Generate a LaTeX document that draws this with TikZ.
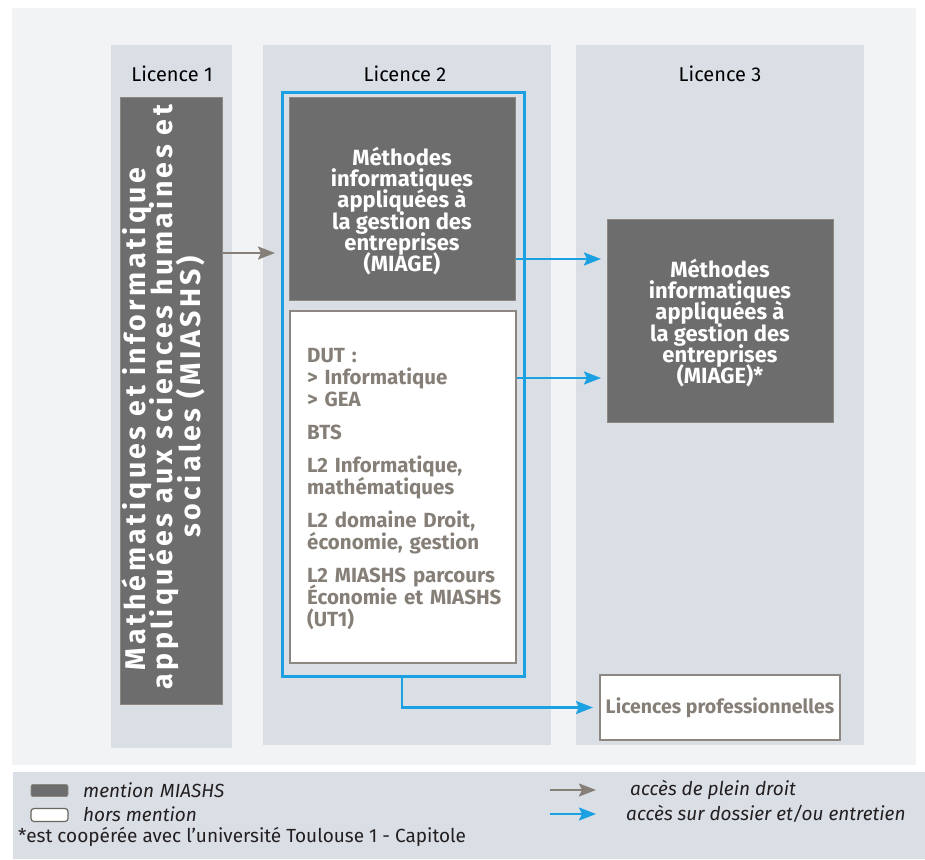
\documentclass[tikz,border=0pt]{standalone}
\usepackage{fontspec}
\setmainfont{Fira Sans}
\newfontfamily\spaced[LetterSpace=12]{Fira Sans}
\usetikzlibrary{arrows.meta}
\definecolor{bglight}{HTML}{F2F3F5}
\definecolor{colbg}{HTML}{DADEE5}
\definecolor{darkbox}{HTML}{6D6D6D}
\definecolor{boxedge}{HTML}{8C8781}
\definecolor{txtgray}{HTML}{857F78}
\definecolor{accblue}{HTML}{1BA0E1}
\definecolor{legink}{HTML}{231F20}
\tikzset{
  tightlines/.style={execute at begin node={\lineskiplimit=-30pt\lineskip=0pt\hyphenpenalty=10000}},
  column/.style={fill=colbg, draw=none, inner sep=0pt},
  darkstyle/.style={fill=darkbox, draw=boxedge, line width=1pt, inner sep=0pt},
  darktext/.style={text=white, font=\bfseries\fontsize{22}{21.3}\selectfont, align=center, inner sep=0pt, tightlines},
  whitestyle/.style={fill=white, draw=boxedge, line width=2pt, text=txtgray, inner sep=0pt},
  graytext/.style={text=txtgray, font=\bfseries\fontsize{20.5}{22}\selectfont, inner sep=0pt, tightlines},
  coltitle/.style={font=\fontsize{20}{22}\selectfont, text=black},
  grayarrow/.style={draw=txtgray, line width=2pt, -{Stealth[length=17pt,width=13pt,inset=3pt]}},
  bluearrow/.style={draw=accblue, line width=2.2pt, -{Stealth[length=17pt,width=13pt,inset=3pt]}},
  legtext/.style={font=\itshape\fontsize{19}{21}\selectfont, text=legink, anchor=west, inner sep=0pt},
}
\begin{document}
\begin{tikzpicture}[x=1pt,y=-1pt]
\useasboundingbox (0,0) rectangle (925,859);
\fill[white] (0,0) rectangle (925,859);
\fill[bglight] (12,8) rectangle (916,765);
\fill[colbg] (13,772) rectangle (925,859);
% columns
\node[column, minimum width=121, minimum height=703, anchor=north west] (c1) at (111,45) {};
\node[column, minimum width=288, minimum height=700, anchor=north west] (c2) at (263,45) {};
\node[column, minimum width=288, minimum height=700, anchor=north west] (c3) at (576,45) {};
\node[coltitle] (t1) at (172,74) {Licence 1};
\node[coltitle] (t2) at (405,74) {Licence 2};
\node[coltitle] (t3) at (720,74) {Licence 3};
% L1 box
\node[darkstyle, minimum width=102, minimum height=607, anchor=north west] (l1) at (120,97) {};
\node[rotate=90, text=white, align=center, font=\spaced\bfseries\fontsize{28.5}{27.5}\selectfont, inner sep=0pt, tightlines] (l1t) at (163,397) {Mathématiques et informatique\hspace*{44pt}\\appliquées aux sciences humaines et\\sociales (MIASHS)};
% blue frame
\node[draw=accblue, line width=2.5pt, minimum width=242, minimum height=584, anchor=north west, inner sep=0pt] (frame) at (281,91) {};
% L2 MIAGE
\node[darkstyle, minimum width=226, minimum height=203, anchor=north west] (m2) at (289,97) {};
\node[darktext] (m2t) at (402,211) {Méthodes\\informatiques\\appliquées à\\la gestion des\\entreprises\\(MIAGE)};
% white box
\node[whitestyle, minimum width=226, minimum height=352, anchor=north west] (w2) at (289,310) {};
\node[graytext, anchor=west, text width=205, align=left] (w2t) at (307,489) {DUT :\\
> Informatique\\
> GEA\\[11pt]
BTS\\[11pt]
L2 Informatique,\\
mathématiques\\[11pt]
L2 domaine Droit,\\
économie, gestion\\[11pt]
L2 MIASHS parcours\\
Économie et MIASHS\\
(UT1)};
% L3 MIAGE
\node[darkstyle, minimum width=226, minimum height=203, anchor=north west] (m3) at (607,219) {};
\node[darktext] (m3t) at (720,323) {Méthodes\\informatiques\\appliquées à\\la gestion des\\entreprises\\(MIAGE)*};
% licences pro
\node[whitestyle, minimum width=240, minimum height=65, anchor=north west, font=\bfseries\fontsize{19.5}{21}\selectfont] (lp) at (599,674) {Licences professionnelles};
% arrows
\coordinate (ga) at (l1.east |- 0,253);
\draw[grayarrow, shorten >=6pt] (ga) -- (ga -| frame.west);
\coordinate (b1) at (m2.east |- 0,259);
\draw[bluearrow, shorten >=6pt] (b1) -- (b1 -| m3.west);
\coordinate (b2) at (w2.east |- 0,378);
\draw[bluearrow, shorten >=6pt] (b2) -- (b2 -| m3.west);
\coordinate (b3) at (frame.south -| 402,0);
\draw[bluearrow, shorten >=6pt] (b3) |- (lp.west);
% legend
\node[fill=darkbox, draw=boxedge, line width=0.8pt, rounded corners=2pt, minimum width=37, minimum height=12, inner sep=0pt] (s1) at (49.5,790.5) {};
\node[fill=white, draw=txtgray!80!black, line width=1.2pt, rounded corners=3pt, minimum width=37, minimum height=13, inner sep=0pt] (s2) at (49.5,815) {};
\node[legtext] (lt1) at (83,790) {mention\hspace{6pt}MIASHS};
\node[legtext] (lt2) at (83,814) {hors mention};
\node[anchor=west, inner sep=0pt, text=legink, font=\fontsize{19}{21}\selectfont] (lt3) at (18,837) {*est coopérée avec l’université Toulouse 1 - Capitole};
\coordinate (la1) at (550,790);
\coordinate (la2) at (550,814);
\node[legtext] (lt4) at (630,790) {accès de plein droit};
\node[legtext] (lt5) at (626,814) {accès sur dossier et/ou entretien};
\draw[grayarrow] (la1) -- (la1 -| 596,0);
\draw[bluearrow] (la2) -- (la2 -| 596,0);
\end{tikzpicture}
\end{document}
